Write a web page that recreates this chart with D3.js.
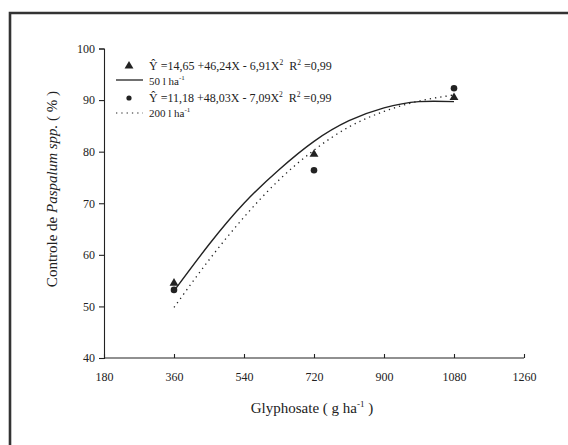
<!DOCTYPE html>
<html>
<head>
<meta charset="utf-8">
<script src="https://cdn.jsdelivr.net/npm/d3@7"></script>
<style>
  body { margin: 0; background: #fff; }
  svg { display: block; font-family: "Liberation Serif", "DejaVu Serif", serif; }
</style>
</head>
<body>
<div id="drawing_region"></div>
<script>
// observed means (triangle = 50 l/ha, circle = 200 l/ha)
const doses = [360, 720, 1080];
const obs50 = [54.5, 79.5, 90.5];
const obs200 = [53.2, 76.4, 92.3];

// fitted curves
const curveDoses = [360, 450, 540, 630, 720, 810, 900, 990, 1080];
const fit50 = [53.0, 62.0, 70.0, 76.5, 82.0, 86.0, 88.5, 89.7, 89.7];
const fit200 = [49.8, 59.0, 67.3, 74.5, 80.3, 84.8, 87.8, 89.8, 91.0];

const xTicks = [180, 360, 540, 720, 900, 1080, 1260];
const yTicks = [40, 50, 60, 70, 80, 90, 100];

const width = 568, height = 445;
const ink = '#222';

const svg = d3.select('#drawing_region')
    .append('svg')
    .attr('width', width)
    .attr('height', height);

// outer frame
svg.append('path')
    .attr('d', `M10,${height + 5} L10,13 L${width + 5},13`)
    .attr('fill', 'none')
    .attr('stroke', '#333')
    .attr('stroke-width', 2.6);

const x = d3.scaleLinear().domain([180, 1260]).range([104, 524]);
const y = d3.scaleLinear().domain([40, 100]).range([358, 48.5]);

// axes
const xAxis = d3.axisBottom(x).tickValues(xTicks).tickFormat(d3.format('d')).tickSize(-4).tickPadding(14);
const yAxis = d3.axisLeft(y).tickValues(yTicks).tickSize(5).tickPadding(4);

const gx = svg.append('g').attr('transform', `translate(0,${y(40)})`).call(xAxis);
const gy = svg.append('g').attr('transform', `translate(${x(180)},0)`).call(yAxis);
[gx, gy].forEach(g => {
    g.select('.domain').attr('stroke', ink).attr('stroke-width', 1.1);
    g.selectAll('line').attr('stroke', ink).attr('stroke-width', 1.1);
    g.selectAll('text')
        .attr('fill', ink)
        .style('font-family', '"Liberation Serif", serif')
        .style('font-size', '12px');
});
gx.select('.domain').attr('d', `M${x(180)},0H${x(1260)}`);

// axis titles
const ylab = svg.append('text')
    .attr('transform', `translate(57,189) rotate(-90)`)
    .attr('text-anchor', 'middle')
    .attr('fill', ink)
    .style('font-size', '15px');
ylab.append('tspan').text('Controle de ');
ylab.append('tspan').attr('font-style', 'italic').text('Paspalum spp.');
ylab.append('tspan').text(' ( % )');

const xlab = svg.append('text')
    .attr('x', 312).attr('y', 413)
    .attr('text-anchor', 'middle')
    .attr('fill', ink)
    .style('font-size', '15px');
xlab.append('tspan').text('Glyphosate ( g ha');
xlab.append('tspan').attr('dy', -6).style('font-size', '9px').text('-1');
xlab.append('tspan').attr('dy', 6).text(' )');

// curves
const line = d3.line()
    .x(d => x(d[0]))
    .y(d => y(d[1]))
    .curve(d3.curveNatural);

svg.append('path')
    .datum(curveDoses.map((d, i) => [d, fit200[i]]))
    .attr('d', line)
    .attr('fill', 'none')
    .attr('stroke', ink)
    .attr('stroke-width', 1.3)
    .attr('stroke-dasharray', '1.3,4');

svg.append('path')
    .datum(curveDoses.map((d, i) => [d, fit50[i]]))
    .attr('d', line)
    .attr('fill', 'none')
    .attr('stroke', ink)
    .attr('stroke-width', 1.4);

// observed points
const tri = d3.symbol().type(d3.symbolTriangle).size(34);
svg.selectAll('.tri')
    .data(doses.map((d, i) => [d, obs50[i]]))
    .enter()
    .append('path')
    .attr('class', 'tri')
    .attr('d', tri)
    .attr('transform', d => `translate(${x(d[0])},${y(d[1])})`)
    .attr('fill', ink);

svg.selectAll('.dot')
    .data(doses.map((d, i) => [d, obs200[i]]))
    .enter()
    .append('circle')
    .attr('class', 'dot')
    .attr('cx', d => x(d[0]))
    .attr('cy', d => y(d[1]))
    .attr('r', 3.3)
    .attr('fill', ink);

// legend
const leg = svg.append('g').attr('fill', ink).style('font-size', '12px');

function eqText(yy, a, b, c) {
    const t = leg.append('text').attr('x', 149).attr('y', yy);
    t.append('tspan').text(`\u0176 =${a} +${b}X - ${c}X`);
    t.append('tspan').attr('dy', -5).style('font-size', '7.5px').text('2');
    t.append('tspan').attr('dy', 5).text('\u00a0\u00a0R');
    t.append('tspan').attr('dy', -5).style('font-size', '7.5px').text('2');
    t.append('tspan').attr('dy', 5).text(' =0,99');
}
function haText(yy, rate) {
    const t = leg.append('text').attr('x', 149).attr('y', yy).style('font-size', '11px');
    t.append('tspan').text(`${rate} l ha`);
    t.append('tspan').attr('dy', -5).style('font-size', '7px').text('-1');
}

leg.append('path').attr('d', tri).attr('transform', 'translate(129,66)');
eqText(70, '14,65', '46,24', '6,91');
leg.append('line').attr('x1', 116).attr('x2', 143).attr('y1', 80).attr('y2', 80)
    .attr('stroke', ink).attr('stroke-width', 1.3);
haText(85, '50');

leg.append('circle').attr('cx', 129).attr('cy', 98).attr('r', 2.6);
eqText(102, '11,18', '48,03', '7,09');
leg.append('line').attr('x1', 116).attr('x2', 143).attr('y1', 113).attr('y2', 113)
    .attr('stroke', ink).attr('stroke-width', 1.2).attr('stroke-dasharray', '1.3,4');
haText(117, '200');
</script>
</body>
</html>
